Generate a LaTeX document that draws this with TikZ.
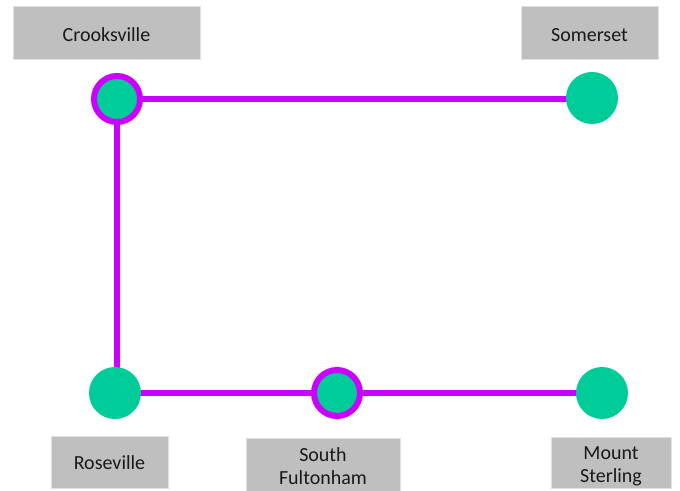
\documentclass[tikz,border=0pt]{standalone}
\usepackage{fontspec}
\setmainfont{Carlito}
\definecolor{route}{RGB}{204,0,255}
\definecolor{stop}{RGB}{0,204,153}
\definecolor{lbl}{RGB}{191,191,191}
\definecolor{lblborder}{RGB}{225,225,225}
\begin{document}
\begin{tikzpicture}[x=0.75pt,y=-0.75pt,
  lblbox/.style={rectangle,fill=lbl,draw=lblborder,line width=0.75pt,inner sep=0pt},
  lbltext/.style={inner sep=0pt,align=center,font=\fontsize{15}{17.6}\selectfont,text=black!90},
  stopdot/.style={circle,fill=stop,inner sep=0pt,minimum size=52*0.75pt},
  xfer/.style={circle,fill=stop,draw=route,line width=4.5pt,inner sep=0pt,minimum size=46*0.75pt},
  routeline/.style={draw=route,line width=4.5pt}]
\useasboundingbox (0,0) rectangle (680,491);
% stops (positions)
\coordinate (crook) at (117,99);
\coordinate (somer) at (592,98);
\coordinate (rose) at (116,393);
\coordinate (south) at (337,393);
\coordinate (mount) at (602,393);
% route
\path[routeline] (crook) -- (crook -| somer);
\path[routeline] (crook) -- (crook |- rose);
\path[routeline] (rose) -- (south) -- (mount);
% stops on top
\node[xfer] (ncrook) at (crook) {};
\node[stopdot] (nsomer) at (somer) {};
\node[stopdot] (nrose) at (115,393) {};
\node[xfer] (nsouth) at (south) {};
\node[stopdot] (nmount) at (mount) {};
% label boxes
\node[lblbox,minimum width=187*0.75pt,minimum height=53*0.75pt] (lcrook) at (106.5,33.5) {};
\node[lblbox,minimum width=137*0.75pt,minimum height=53*0.75pt] (lsomer) at (589.5,33.5) {};
\node[lblbox,minimum width=117*0.75pt,minimum height=52*0.75pt] (lrose) at (109.5,462) {};
\node[lblbox,minimum width=154*0.75pt,minimum height=53*0.75pt] (lsouth) at (323,465) {};
\node[lblbox,minimum width=120*0.75pt,minimum height=51*0.75pt] (lmount) at (611,462.5) {};
% label texts
\node[lbltext] (tcrook) at ([yshift=-1.2pt]lcrook.center) {Crooksville};
\node[lbltext] (tsomer) at ([yshift=-1.2pt]lsomer.center) {Somerset};
\node[lbltext] (trose) at ([yshift=-0.8pt]lrose.center) {Roseville};
\node[lbltext] (tsouth) at ([yshift=-0.8pt]lsouth.center) {South\\Fultonham};
\node[lbltext] (tmount) at ([yshift=-3pt]lmount.center) {Mount\\Sterling};
\end{tikzpicture}
\end{document}
